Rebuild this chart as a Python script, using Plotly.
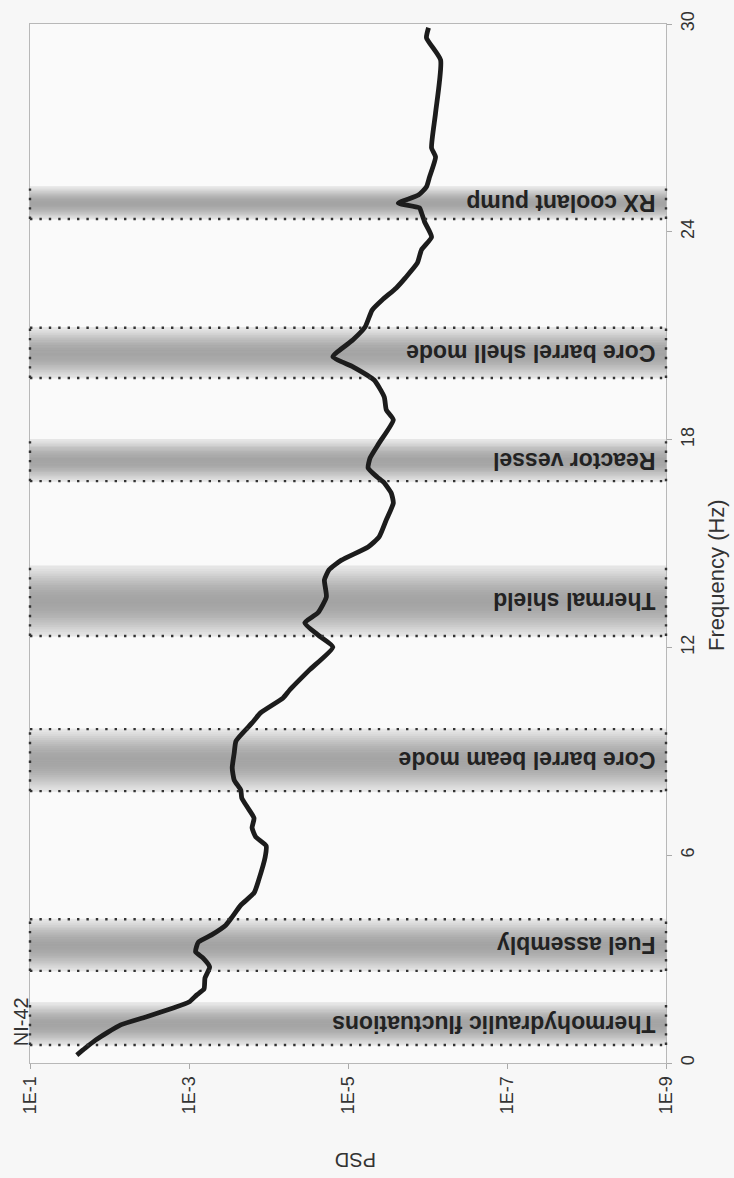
import plotly.graph_objects as go
import numpy as np

# ---------------- data ----------------
freq_hz = [0.23, 0.43, 0.66, 0.87, 1.10, 1.33, 1.59, 1.76, 1.96, 2.14, 2.45, 2.77, 3.03, 3.21,
           3.49, 3.70, 3.98, 4.22, 4.56, 4.91, 5.28, 5.95, 6.27, 6.53, 6.79, 7.07, 7.39, 7.65,
           7.88, 8.17, 8.52, 8.95, 9.30, 9.82, 10.11, 10.54, 10.77, 11.35, 12.01, 12.36, 12.71,
           13.00, 13.46, 13.95, 14.24, 14.52, 14.90, 15.19, 15.68, 16.17, 16.46, 16.75, 16.92,
           17.18, 17.47, 17.90, 18.57, 18.86, 19.23, 19.72, 20.10, 20.39, 20.88, 21.25, 21.74,
           22.03, 22.38, 22.67, 23.10, 23.48, 23.85, 24.29, 24.55, 24.69, 24.83, 25.06, 25.30,
           25.58, 26.16, 26.42, 27.43, 28.96, 29.60, 29.89]
psd = [2.58e-2, 2.02e-2, 1.50e-2, 1.08e-2, 7.23e-3, 3.48e-3, 1.58e-3, 1.00e-3, 8.04e-4, 6.47e-4,
       6.30e-4, 5.50e-4, 6.64e-4, 8.26e-4, 7.62e-4, 5.20e-4, 3.45e-4, 2.86e-4, 2.23e-4, 1.52e-4,
       1.33e-4, 1.10e-4, 1.07e-4, 1.45e-4, 1.61e-4, 1.52e-4, 1.85e-4, 2.17e-4, 2.23e-4, 2.70e-4,
       2.86e-4, 2.70e-4, 2.56e-4, 1.61e-4, 1.26e-4, 6.56e-5, 5.42e-5, 3.05e-5, 1.55e-5, 2.39e-5,
       3.50e-5, 2.39e-5, 1.87e-5, 1.98e-5, 1.73e-5, 1.21e-5, 5.58e-6, 4.06e-6, 3.30e-6, 2.69e-6,
       2.86e-6, 3.50e-6, 4.30e-6, 5.58e-6, 5.27e-6, 4.06e-6, 2.69e-6, 3.30e-6, 3.50e-6, 4.69e-6,
       8.65e-6, 1.55e-5, 8.65e-6, 6.10e-6, 4.97e-6, 3.72e-6, 2.47e-6, 1.90e-6, 1.34e-6, 1.19e-6,
       8.89e-7, 1.09e-6, 1.19e-6, 1.26e-6, 2.33e-6, 1.30e-6, 1.03e-6, 9.44e-7, 7.92e-7, 8.89e-7,
       7.92e-7, 6.84e-7, 1.03e-6, 9.70e-7]

band_labels = ["Thermohydraulic fluctuations", "Fuel assembly", "Core barrel beam mode",
               "Thermal shield", "Reactor vessel", "Core barrel shell mode", "RX coolant pump"]
band_lo = [0.52, 2.66, 7.85, 12.33, 16.80, 19.78, 24.37]
band_hi = [1.74, 4.15, 9.64, 14.35, 18.00, 21.23, 25.30]
band_hi_dotted = [False, True, True, False, False, True, False]

psd_tickvals = [1e-1, 1e-3, 1e-5, 1e-7, 1e-9]
psd_ticktext = ["1E-1", "1E-3", "1E-5", "1E-7", "1E-9"]
freq_tickvals = [0, 6, 12, 18, 24, 30]

# ---------------- figure ----------------
W, H = 734, 1178
ML, MR, MT, MB = 30, 68, 24, 115
FONT = "Liberation Sans, Arial, sans-serif"

fig = go.Figure()
shapes = []
nstrip = 30
for lo, hi, dotted_hi in zip(band_lo, band_hi, band_hi_dotted):
    edges = np.linspace(lo, hi, nstrip + 1)
    for i in range(nstrip):
        t = (i + 0.5) / nstrip
        c = int(round(232 - 68 * np.sin(np.pi * t) ** 1.1))
        col = f"rgb({c},{c},{c})"
        shapes.append(dict(type="rect", xref="paper", yref="y", x0=0, x1=1,
                           y0=edges[i], y1=edges[i + 1], layer="below",
                           line=dict(width=1, color=col), fillcolor=col))
    dot = dict(color="#333333", width=2.4, dash="2.4px,7px")
    shapes.append(dict(type="line", xref="paper", yref="y", x0=0, x1=1, y0=lo, y1=lo,
                       line=dot, layer="above"))
    if dotted_hi:
        shapes.append(dict(type="line", xref="paper", yref="y", x0=0, x1=1, y0=hi, y1=hi,
                           line=dot, layer="above"))
    for xe in (0, 1):
        shapes.append(dict(type="line", xref="paper", yref="y", x0=xe, x1=xe, y0=lo, y1=hi,
                           line=dot, layer="above"))

fig.add_trace(go.Scatter(x=psd, y=freq_hz, mode="lines",
                         line=dict(color="#1c1c1c", width=4.8, shape="spline", smoothing=0.5),
                         hoverinfo="skip", showlegend=False))

annotations = []
for lab, lo, hi in zip(band_labels, band_lo, band_hi):
    annotations.append(dict(text="<b>" + lab + "</b>", xref="paper", yref="y", x=0.987,
                            y=(lo + hi) / 2, xanchor="right", yanchor="middle", textangle=180,
                            showarrow=False, font=dict(family=FONT, size=23, color="#222222")))
annotations.append(dict(text="PSD", xref="paper", yref="paper", x=0.511, y=-0.094,
                        textangle=180, showarrow=False, xanchor="center", yanchor="middle",
                        font=dict(family=FONT, size=20, color="#333333")))
annotations.append(dict(text="Frequency (Hz)", xref="paper", yref="paper", x=1.079, y=0.47,
                        textangle=-90, showarrow=False, xanchor="center", yanchor="middle",
                        font=dict(family=FONT, size=22, color="#333333")))
annotations.append(dict(text="NI-42", xref="paper", yref="paper", x=-0.013, y=0.04,
                        textangle=-90, showarrow=False, xanchor="center", yanchor="middle",
                        font=dict(family=FONT, size=20, color="#333333")))

fig.update_layout(
    width=W, height=H,
    margin=dict(l=ML, r=MR, t=MT, b=MB),
    paper_bgcolor="#f7f7f7", plot_bgcolor="#fafafa",
    shapes=shapes, annotations=annotations, showlegend=False,
    xaxis=dict(type="log", range=[-1, -9], tickvals=psd_tickvals, ticktext=psd_ticktext,
               tickangle=-90, showgrid=False, zeroline=False, showline=True, mirror=True,
               linecolor="#b8b8b8", linewidth=1, ticks="outside", ticklen=5, tickcolor="#aaaaaa",
               tickfont=dict(family=FONT, size=18, color="#333333")),
    yaxis=dict(range=[0, 30], tickvals=freq_tickvals, side="right", tickangle=-90,
               showgrid=False, zeroline=False, showline=True, mirror=True,
               linecolor="#b8b8b8", linewidth=1, ticks="outside", ticklen=5, tickcolor="#aaaaaa",
               tickfont=dict(family=FONT, size=18, color="#333333")),
)

fig.write_html("out.html", config={"displayModeBar": False},
               post_script="document.body.style.margin='0';document.body.style.background='#f7f7f7';")
